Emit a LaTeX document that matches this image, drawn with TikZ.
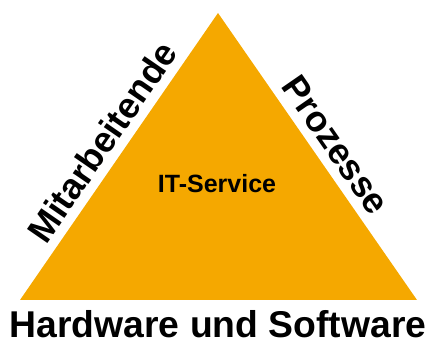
\documentclass[tikz,border=0pt]{standalone}
\usepackage{fontspec}
\setmainfont{Liberation Sans}
\definecolor{pyr}{RGB}{245,168,0}
\begin{document}
\begin{tikzpicture}[x=1pt,y=-1pt,
  lbl/.style={font=\bfseries\fontsize{36}{36}\selectfont, inner sep=0pt},
  base/.style={font=\bfseries\fontsize{37.3}{37.3}\selectfont, inner sep=0pt},
  mid/.style={font=\bfseries\fontsize{25}{25}\selectfont, inner sep=0pt}]
\useasboundingbox (0,0) rectangle (431,344);
\coordinate (top) at (218,13);
\coordinate (bl) at (20,300);
\coordinate (br) at (417,300);
\fill[pyr] (top) -- (bl) -- (br) -- cycle;
\node[mid] (it) at (217,184) {IT-Service};
\node[lbl, rotate=55.4] (ma) at (102,142) {Mitarbeitende};
\node[lbl, rotate=-55.3] (pr) at (336,145) {Prozesse};
\node[base, anchor=base] (hw) at (218,337.5) {Hardware und Software};
\end{tikzpicture}
\end{document}
